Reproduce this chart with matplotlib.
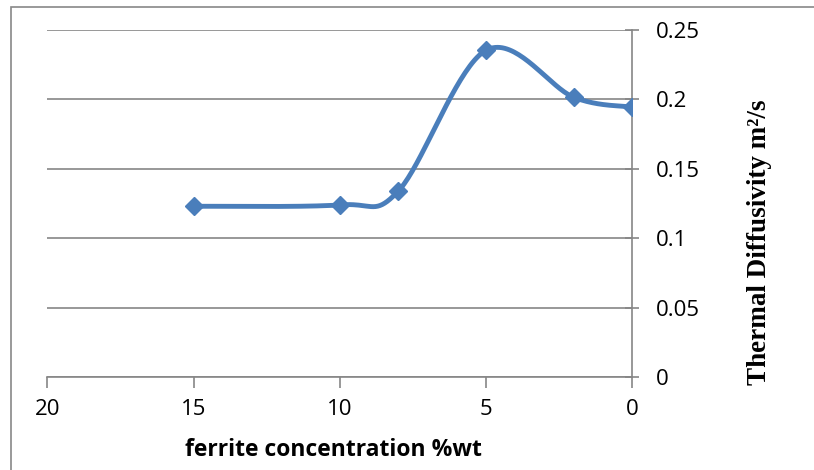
import numpy as np
import matplotlib.pyplot as plt
from matplotlib.patches import Rectangle

# data
ferrite = [15, 10, 8, 5, 2, 0]
diffusivity = [0.123, 0.124, 0.134, 0.2355, 0.2015, 0.1945]
xticks = [20, 15, 10, 5, 0]
yticks = [0, 0.05, 0.1, 0.15, 0.2, 0.25]

blue = "#4a7ebb"
grey = "#868686"


def smooth(xs, ys, sx, sy, n=40):
    # Excel-like smoothed line (Catmull-Rom Bezier), done in screen-scaled space
    p = np.column_stack([np.asarray(xs) * sx, np.asarray(ys) * sy])
    out = []
    for i in range(len(p) - 1):
        p0 = p[max(i - 1, 0)]
        p1 = p[i]
        p2 = p[i + 1]
        p3 = p[min(i + 2, len(p) - 1)]
        c1 = p1 + (p2 - p0) / 6
        c2 = p2 - (p3 - p1) / 6
        t = np.linspace(0, 1, n)[:, None]
        seg = ((1 - t) ** 3) * p1 + 3 * ((1 - t) ** 2) * t * c1 + 3 * (1 - t) * t ** 2 * c2 + t ** 3 * p2
        out.append(seg)
    out = np.vstack(out)
    return out[:, 0] / sx, out[:, 1] / sy


fig = plt.figure(figsize=(8.14, 4.70), dpi=100)
ax = fig.add_axes([0.058, 0.198, 0.719, 0.738])

# chart border
fig.patches.append(Rectangle((11 / 814, -0.1), 1.2, 1 - 7 / 470 + 0.1, transform=fig.transFigure,
                             fill=False, edgecolor="#888888", lw=1.2))

sx, sy = 585 / 20, 347 / 0.25
cx, cy = smooth(ferrite, diffusivity, sx, sy)
ax.plot(cx, cy, color=blue, lw=3.5, solid_capstyle="round", zorder=3)
ax.plot(ferrite, diffusivity, linestyle="none", marker="D", markersize=9, color=blue, zorder=4)

ax.set_xlim(20, 0)
ax.set_ylim(0, 0.25)
ax.set_xticks(xticks)
ax.set_xticklabels([str(v) for v in xticks])
ax.set_yticks(yticks)
ax.set_yticklabels(["0", "0.05", "0.1", "0.15", "0.2", "0.25"])
ax.yaxis.tick_right()
ax.grid(axis="y", color=grey, lw=1.2)
ax.set_axisbelow(True)

for s in ["top", "left"]:
    ax.spines[s].set_visible(False)
ax.spines["right"].set_color(grey)
ax.spines["bottom"].set_color(grey)
ax.spines["right"].set_linewidth(1.2)
ax.spines["bottom"].set_linewidth(1.2)
ax.tick_params(axis="x", direction="out", length=8, color=grey, width=1.2, labelsize=16, pad=8)
ax.tick_params(axis="y", direction="inout", length=10, color=grey, width=1.2, labelsize=16, pad=12)
for lab in ax.get_xticklabels() + ax.get_yticklabels():
    lab.set_fontfamily("Open Sans")

fig.text(333 / 814, 1 - 450 / 470, "ferrite concentration %wt", family="Open Sans",
         fontweight="bold", fontsize=16.5, ha="center", va="center")
fig.text(760 / 814, 1 - 242 / 470, "Thermal Diffusivity m²/s", family="Liberation Serif",
         fontweight="bold", fontsize=19.5, rotation=90, ha="center", va="center")

fig.savefig("out.png", dpi=100)
